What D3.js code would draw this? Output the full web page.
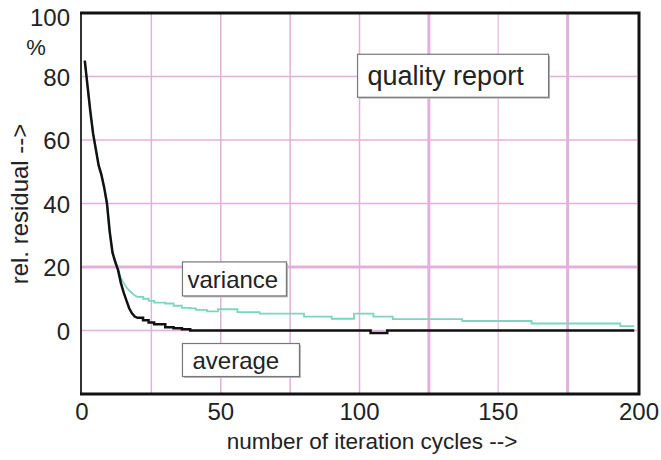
<!DOCTYPE html>
<html>
  <body style="margin:0;background:#fff">
    <script src="https://cdn.jsdelivr.net/npm/d3@7"></script>
    <script type="text/javascript">

      const width = 661;
      const height = 460;

      // iteration cycle at which each value starts
      const cycles = [1, 2, 3, 4, 5, 6, 7, 8, 9, 10, 11, 12, 13, 14, 15, 16, 17, 18, 19, 20,
        22, 24, 26, 30, 33, 36, 39, 41, 45, 49, 56, 64, 80, 90, 98, 104, 105, 110, 112, 137, 162, 194, 199];
      const average = [85, 77, 69, 62, 57, 52, 49, 45, 40, 31, 24.5, 21.5, 19, 15, 12, 9.5, 7, 5.4, 4.4, 4,
        3.2, 2.5, 2, 1, 0.7, 0.4, 0, 0, 0, 0, 0, 0, 0, 0, 0, -0.8, -0.8, 0, 0, 0, 0, 0, 0];
      const variance = [85, 77, 69, 62, 57, 52, 49, 45, 40, 31, 24.5, 22, 19.5, 16.5, 15, 13.6, 12.6, 11.8, 11, 10.6,
        10, 9.3, 8.8, 8.5, 7.8, 7.1, 7, 6.5, 6, 6.7, 5.8, 5.3, 4.4, 3.7, 5.3, 5.3, 4.4, 4.4, 3.6, 3, 2.2, 1.4, 1.4];

      const xTicks = [0, 50, 100, 150, 200];
      const yTicks = [0, 20, 40, 60, 80, 100];
      const xGrid = [25, 50, 75, 100, 125, 150, 175];
      const yGrid = [0, 20, 40, 60, 80];

      const svg = d3.select('body')
        .append('svg')
        .attr('width', width)
        .attr('height', height)
        .style('font-family', '"Liberation Sans", Arial, sans-serif');

      const xScale = d3.scaleLinear().domain([0, 200]).range([82, 637]);
      const yScale = d3.scaleLinear().domain([-20, 100]).range([394, 13]);

      const gridColor = '#e2b0da';

      // grid
      svg.append('g')
        .selectAll('line')
        .data(xGrid)
        .enter()
        .append('line')
        .attr('x1', (d) => xScale(d))
        .attr('x2', (d) => xScale(d))
        .attr('y1', yScale(100))
        .attr('y2', yScale(-20))
        .attr('stroke', (d) => d === 150 ? '#ecc6e6' : gridColor)
        .attr('stroke-width', (d) => (d === 125 || d === 175) ? 3 : 1.5);

      svg.append('g')
        .selectAll('line')
        .data(yGrid)
        .enter()
        .append('line')
        .attr('x1', xScale(0))
        .attr('x2', xScale(200))
        .attr('y1', (d) => yScale(d))
        .attr('y2', (d) => yScale(d))
        .attr('stroke', gridColor)
        .attr('stroke-width', (d) => d === 20 ? 3 : 1.5);

      // steep start drawn straight, flat tail drawn as steps
      const split = cycles.indexOf(20);
      const seriesPath = (values) => {
        const pts = cycles.map((c, i) => [xScale(c), yScale(values[i])]);
        const head = d3.line()(pts.slice(0, split + 1));
        const tail = d3.line().curve(d3.curveStepAfter)(pts.slice(split));
        return head + 'L' + tail.slice(1);
      };

      svg.append('path')
        .attr('d', seriesPath(variance))
        .attr('fill', 'none')
        .attr('stroke', '#7ad6be')
        .attr('stroke-width', 1.8);

      svg.append('path')
        .attr('d', seriesPath(average))
        .attr('fill', 'none')
        .attr('stroke', '#111')
        .attr('stroke-width', 2.5);

      // frame
      svg.append('line')
        .attr('x1', xScale(0) - 1).attr('x2', xScale(0) - 1)
        .attr('y1', yScale(100)).attr('y2', yScale(-20))
        .attr('stroke', '#333').attr('stroke-width', 2);
      svg.append('path')
        .attr('d', `M${xScale(0) - 2},${yScale(100)}H${xScale(200) + 2}V${yScale(-20)}H${xScale(0) - 2}`)
        .attr('fill', 'none')
        .attr('stroke', '#111')
        .attr('stroke-width', 3);

      // tick labels
      svg.append('g')
        .selectAll('text')
        .data(yTicks)
        .enter()
        .append('text')
        .attr('x', 70)
        .attr('y', (d) => yScale(d) + 9 + (d === 100 ? 4 : 0))
        .attr('text-anchor', 'end')
        .attr('font-size', 24)
        .attr('fill', '#222')
        .text((d) => d);

      svg.append('text')
        .attr('x', 36).attr('y', 55)
        .attr('text-anchor', 'middle')
        .attr('font-size', 22)
        .attr('fill', '#222')
        .text('%');

      svg.append('g')
        .selectAll('text')
        .data(xTicks)
        .enter()
        .append('text')
        .attr('x', (d) => xScale(d) + (d === 200 ? 2 : 0))
        .attr('y', 420)
        .attr('text-anchor', 'middle')
        .attr('font-size', 24)
        .attr('fill', '#222')
        .text((d) => d);

      svg.append('text')
        .attr('x', 372).attr('y', 449)
        .attr('text-anchor', 'middle')
        .attr('font-size', 22.5)
        .attr('fill', '#222')
        .text('number of iteration cycles -->');

      svg.append('text')
        .attr('transform', 'translate(28, 204) rotate(-90)')
        .attr('text-anchor', 'middle')
        .attr('font-size', 24)
        .attr('fill', '#222')
        .text('rel. residual -->');

      // labelled boxes
      const boxes = [
        { text: 'quality report', x: 99.3, y: 87, w: 191, h: 43, size: 27, pad: 10 },
        { text: 'variance', x: 36.2, y: 21.6, w: 104, h: 34, size: 24, pad: 5 },
        { text: 'average', x: 36.2, y: -4.1, w: 117, h: 33, size: 24, pad: 10 },
      ];
      const boxG = svg.append('g')
        .selectAll('g')
        .data(boxes)
        .enter()
        .append('g')
        .attr('transform', (d) => `translate(${xScale(d.x)}, ${yScale(d.y)})`);
      boxG.append('rect')
        .attr('x', 1.5).attr('y', 1.5)
        .attr('width', (d) => d.w).attr('height', (d) => d.h)
        .attr('fill', '#bbb');
      boxG.append('rect')
        .attr('width', (d) => d.w).attr('height', (d) => d.h)
        .attr('fill', '#fff')
        .attr('stroke', '#777')
        .attr('stroke-width', 1.2);
      boxG.append('text')
        .attr('x', (d) => d.pad)
        .attr('y', (d) => d.h / 2 + d.size * 0.36)
        .attr('font-size', (d) => d.size)
        .attr('fill', '#222')
        .text((d) => d.text);

    </script>
  </body>
</html>
